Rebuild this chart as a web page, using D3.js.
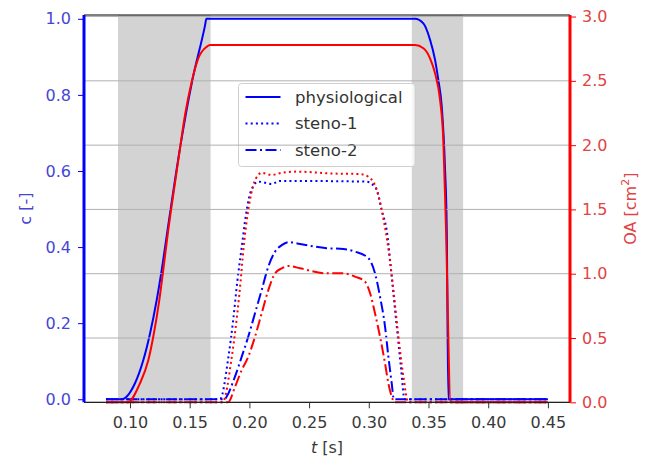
<!DOCTYPE html>
<html>
<head>
<meta charset="utf-8">
<script src="https://cdn.jsdelivr.net/npm/d3@7/dist/d3.min.js"></script>
<style>
  html, body { margin: 0; padding: 0; background: #fff; }
  svg { display: block; }
  text { font-family: "DejaVu Sans", sans-serif; }
</style>
</head>
<body>
<svg id="chart" width="646" height="461"></svg>
<script>
// Valve opening coefficient c (left axis) and orifice area OA (right axis) over time t [s]

// Shaded intervals (start / end times)
const spanStart = [0.09, 0.336];
const spanEnd   = [0.1675, 0.379];

// physiological
const physT  = [0.08, 0.093, 0.1042, 0.1112, 0.1168, 0.1224, 0.1266, 0.1308, 0.1419, 0.152, 0.1627, 0.164, 0.3387, 0.3457, 0.3513, 0.3555, 0.3582, 0.3611, 0.3638, 0.3653, 0.3666, 0.45];
const physC  = [0, 0, 0.042, 0.103, 0.173, 0.261, 0.34, 0.43, 0.66, 0.835, 0.98, 1.0, 1.0, 0.988, 0.945, 0.892, 0.84, 0.77, 0.61, 0.445, 0, 0];
const physTo = [0.08, 0.098, 0.1084, 0.1154, 0.1195, 0.1246, 0.1279, 0.1321, 0.1344, 0.1419, 0.1461, 0.1517, 0.1572, 0.1643, 0.167, 0.3387, 0.3457, 0.3513, 0.3555, 0.3597, 0.3624, 0.3645, 0.3686, 0.45];
const physOA = [0, 0, 0.148, 0.329, 0.51, 0.797, 1.03, 1.342, 1.496, 1.975, 2.234, 2.493, 2.675, 2.765, 2.778, 2.778, 2.753, 2.675, 2.558, 2.35, 2.04, 1.4, 0, 0];

// steno-1
const st1T  = [0.08, 0.1754, 0.1824, 0.1865, 0.1899, 0.1936, 0.1969, 0.1997, 0.2033, 0.2075, 0.2187, 0.2257, 0.2983, 0.3024, 0.3067, 0.3108, 0.315, 0.3199, 0.3241, 0.3269, 0.33, 0.45];
const st1C  = [0, 0, 0.11, 0.21, 0.31, 0.40, 0.48, 0.53, 0.56, 0.572, 0.566, 0.574, 0.572, 0.566, 0.55, 0.497, 0.444, 0.30, 0.17, 0.085, 0, 0];
const st1To = [0.08, 0.1775, 0.1852, 0.1916, 0.1957, 0.1995, 0.203, 0.2075, 0.2103, 0.2187, 0.227, 0.2396, 0.2703, 0.2927, 0.2996, 0.3067, 0.3108, 0.3155, 0.3197, 0.324, 0.329, 0.333, 0.45];
const st1OA = [0, 0, 0.35, 0.84, 1.25, 1.52, 1.68, 1.768, 1.785, 1.768, 1.785, 1.794, 1.779, 1.775, 1.754, 1.651, 1.495, 1.25, 0.95, 0.58, 0.2, 0, 0];

// steno-2
const st2T  = [0.08, 0.1795, 0.181, 0.188, 0.1936, 0.1991, 0.2047, 0.2103, 0.2159, 0.2215, 0.2271, 0.233, 0.2424, 0.2647, 0.2787, 0.2885, 0.2996, 0.3052, 0.3094, 0.3136, 0.3164, 0.3192, 0.321, 0.45];
const st2C  = [0, 0, 0.007, 0.06, 0.112, 0.165, 0.226, 0.287, 0.349, 0.388, 0.405, 0.413, 0.408, 0.397, 0.395, 0.388, 0.371, 0.331, 0.27, 0.191, 0.112, 0.042, 0, 0];
const st2To = [0.08, 0.1821, 0.188, 0.1936, 0.1991, 0.2047, 0.2103, 0.2159, 0.2215, 0.2271, 0.233, 0.2424, 0.2647, 0.2787, 0.2885, 0.2969, 0.3011, 0.3052, 0.3094, 0.3136, 0.3164, 0.3192, 0.3215, 0.45];
const st2OA = [0, 0, 0.121, 0.251, 0.355, 0.51, 0.692, 0.874, 1.003, 1.042, 1.06, 1.042, 1.003, 1.003, 0.977, 0.938, 0.848, 0.692, 0.51, 0.303, 0.148, 0.044, 0, 0];

// Axis ticks and labels
const xTicks  = [0.10, 0.15, 0.20, 0.25, 0.30, 0.35, 0.40, 0.45];
const cTicks  = [0.0, 0.2, 0.4, 0.6, 0.8, 1.0];
const oaTicks = [0.0, 0.5, 1.0, 1.5, 2.0, 2.5, 3.0];
const legendLabels = ["physiological", "steno-1", "steno-2"];

const BLUE = "#0000ff", RED = "#ff0000";
const DOTTED = "2,3.2", DASHDOT = "11,3.5,2,3.5";

const L = 84, R = 570, T = 15, B = 402.3;
const x   = d3.scaleLinear().domain([0.0615, 0.4685]).range([L, R]);
const yC  = d3.scaleLinear().domain([-0.008, 1.01]).range([B, T]);
const yOA = d3.scaleLinear().domain([0, 3.012]).range([B, T]);

const svg = d3.select("#chart");
svg.append("rect").attr("width", 646).attr("height", 461).attr("fill", "#fff");

const zip = (ts, vs) => ts.map((t, i) => [t, vs[i]]);
const lineC  = d3.line().x(d => x(d[0])).y(d => yC(d[1])).curve(d3.curveMonotoneX);
const lineOA = d3.line().x(d => x(d[0])).y(d => yOA(d[1])).curve(d3.curveMonotoneX);

// shaded intervals
svg.append("g").selectAll("rect").data(d3.range(spanStart.length)).join("rect")
  .attr("x", i => x(spanStart[i]))
  .attr("width", i => x(spanEnd[i]) - x(spanStart[i]))
  .attr("y", T).attr("height", B - T)
  .attr("fill", "#d3d3d3");

// c curves
const cSeries = [
  { data: zip(physT, physC), dash: null },
  { data: zip(st1T, st1C), dash: DOTTED },
  { data: zip(st2T, st2C), dash: DASHDOT }
];
svg.append("g").selectAll("path").data(cSeries).join("path")
  .attr("d", s => lineC(s.data))
  .attr("fill", "none").attr("stroke", BLUE).attr("stroke-width", 2)
  .attr("stroke-dasharray", s => s.dash);

// legend
const lg = svg.append("g").attr("transform", "translate(238.5,83.5)");
lg.append("rect").attr("width", 176.5).attr("height", 83).attr("rx", 3)
  .attr("fill", "#fff").attr("fill-opacity", 0.8)
  .attr("stroke", "#d0d0d0").attr("stroke-width", 1);
const dashes = [null, DOTTED, DASHDOT];
legendLabels.forEach((lab, i) => {
  const yy = 13.5 + i * 26.5;
  lg.append("line").attr("x1", 7).attr("x2", 42).attr("y1", yy).attr("y2", yy)
    .attr("stroke", BLUE).attr("stroke-width", 2).attr("stroke-dasharray", dashes[i]);
  lg.append("text").attr("x", 56.5).attr("y", yy).attr("dy", "0.35em")
    .attr("font-size", 16.5).attr("fill", "#333").text(lab);
});

// horizontal grid at the OA ticks
svg.append("g").selectAll("line").data(oaTicks).join("line")
  .attr("x1", L).attr("x2", R)
  .attr("y1", d => yOA(d)).attr("y2", d => yOA(d))
  .attr("stroke", "#b0b0b0").attr("stroke-width", 1);

// OA curves
const oaSeries = [
  { data: zip(physTo, physOA), dash: null },
  { data: zip(st1To, st1OA), dash: DOTTED },
  { data: zip(st2To, st2OA), dash: DASHDOT }
];
svg.append("g").selectAll("path").data(oaSeries).join("path")
  .attr("d", s => lineOA(s.data))
  .attr("fill", "none").attr("stroke", RED).attr("stroke-width", 2)
  .attr("stroke-dasharray", s => s.dash);

// axes
const fmt1 = d3.format(".1f"), fmt2 = d3.format(".2f");
const gx = svg.append("g").attr("transform", `translate(0,${B})`)
  .call(d3.axisBottom(x).tickValues(xTicks).tickFormat(fmt2).tickSize(6).tickPadding(8).tickSizeOuter(0));
gx.select(".domain").remove();
gx.selectAll("line").attr("stroke", "#333");
gx.selectAll("text").attr("font-size", 16).attr("fill", "#3a3a3a").attr("font-family", "DejaVu Sans");

const gl = svg.append("g").attr("transform", `translate(${L},0)`)
  .call(d3.axisLeft(yC).tickValues(cTicks).tickFormat(fmt1).tickSize(6).tickPadding(7).tickSizeOuter(0));
gl.select(".domain").remove();
gl.selectAll("line").attr("stroke", BLUE);
gl.selectAll("text").attr("font-size", 16).attr("fill", "#4646d6").attr("font-family", "DejaVu Sans");

const gr = svg.append("g").attr("transform", `translate(${R},0)`)
  .call(d3.axisRight(yOA).tickValues(oaTicks).tickFormat(fmt1).tickSize(6).tickPadding(6).tickSizeOuter(0));
gr.select(".domain").remove();
gr.selectAll("line").attr("stroke", RED);
gr.selectAll("text").attr("font-size", 16).attr("fill", "#e04444").attr("font-family", "DejaVu Sans");

// spines
svg.append("line").attr("x1", L).attr("x2", R).attr("y1", T).attr("y2", T).attr("stroke", "#000").attr("stroke-width", 1);
svg.append("line").attr("x1", L).attr("x2", R).attr("y1", B).attr("y2", B).attr("stroke", "#222").attr("stroke-width", 1.2);
svg.append("line").attr("x1", L).attr("x2", L).attr("y1", T).attr("y2", B).attr("stroke", BLUE).attr("stroke-width", 3);
svg.append("line").attr("x1", R).attr("x2", R).attr("y1", T).attr("y2", B).attr("stroke", RED).attr("stroke-width", 3);

// axis titles
const xt = svg.append("text").attr("x", (L + R) / 2).attr("y", 453)
  .attr("text-anchor", "middle").attr("font-size", 16).attr("fill", "#3a3a3a");
xt.append("tspan").attr("font-style", "italic").text("t");
xt.append("tspan").text(" [s]");

svg.append("text").attr("transform", `translate(31,${(T + B) / 2}) rotate(-90)`)
  .attr("text-anchor", "middle").attr("font-size", 16).attr("fill", "#4646d6")
  .text("c [-]");

const oat = svg.append("text").attr("transform", `translate(636,${(T + B) / 2}) rotate(-90)`)
  .attr("text-anchor", "middle").attr("font-size", 16).attr("fill", "#e04444");
oat.append("tspan").text("OA [cm");
oat.append("tspan").attr("font-size", 11).attr("dy", -7).text("2");
oat.append("tspan").attr("dy", 7).text("]");
</script>
</body>
</html>
